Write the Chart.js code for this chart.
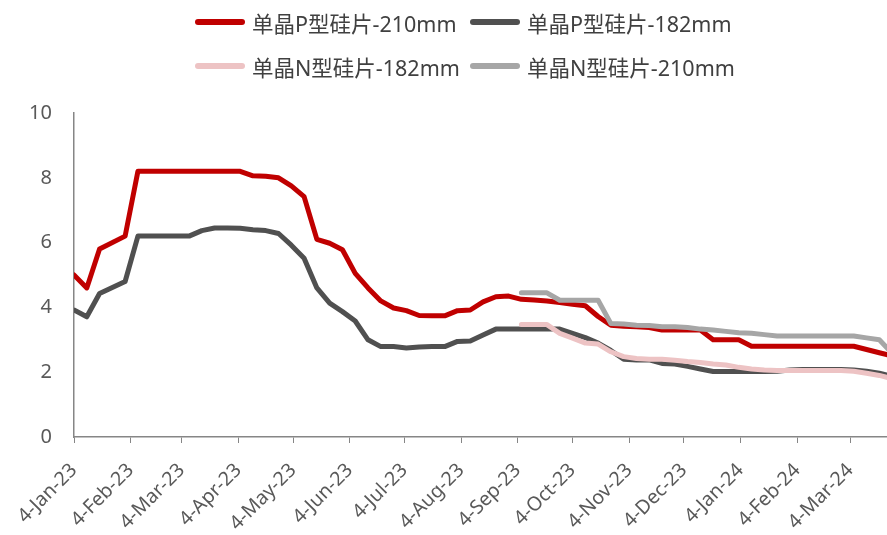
<!DOCTYPE html>
<html>
<head>
<meta charset="utf-8">
<script src="https://cdn.jsdelivr.net/npm/chart.js@4.4.1/dist/chart.umd.min.js"></script>
<style>
  html, body { margin: 0; padding: 0; background: #fff; }
  #wrap { position: relative; width: 887px; height: 535px; }
  #chart { position: absolute; left: 0; top: 0; }
  #legend {
    position: absolute; left: 195px; top: 0; width: 600px;
    display: grid; grid-template-columns: 275px 275px; grid-auto-rows: 44px;
    font-family: 'Noto Sans', 'Noto Sans CJK SC', sans-serif;
    font-size: 21.5px; color: #404040;
  }
  #legend .item { display: flex; align-items: center; white-space: nowrap; }
  #legend .sw { width: 50px; height: 6px; border-radius: 3px; margin-right: 7px; flex: none; }
</style>
</head>
<body>
<div id="wrap">
  <canvas id="chart" width="887" height="535"></canvas>
  <div id="legend"></div>
</div>
<script>
// Weekly quotation dates (Wednesdays); no quote in Spring Festival week 2023-01-25
const weeks = [
  '2023-01-04','2023-01-11','2023-01-18','2023-02-01','2023-02-08','2023-02-15','2023-02-22',
  '2023-03-01','2023-03-08','2023-03-15','2023-03-22','2023-03-29','2023-04-05','2023-04-12',
  '2023-04-19','2023-04-26','2023-05-03','2023-05-10','2023-05-17','2023-05-24','2023-05-31',
  '2023-06-07','2023-06-14','2023-06-21','2023-06-28','2023-07-05','2023-07-12','2023-07-19',
  '2023-07-26','2023-08-02','2023-08-09','2023-08-16','2023-08-23','2023-08-30','2023-09-06',
  '2023-09-13','2023-09-20','2023-09-27','2023-10-04','2023-10-11','2023-10-18','2023-10-25',
  '2023-11-01','2023-11-08','2023-11-15','2023-11-22','2023-11-29','2023-12-06','2023-12-13',
  '2023-12-20','2023-12-27','2024-01-03','2024-01-10','2024-01-17','2024-01-24','2024-01-31',
  '2024-02-07','2024-02-14','2024-02-21','2024-02-28','2024-03-06','2024-03-13','2024-03-20',
  '2024-03-27'
];

// 单晶P型硅片-210mm (元/片)
const p210 = [
  5.0, 4.6, 5.8, 6.2, 8.2, 8.2, 8.2,
  8.2, 8.2, 8.2, 8.2, 8.2, 8.2, 8.06,
  8.05, 8.0, 7.75, 7.42, 6.1, 5.98, 5.78,
  5.05, 4.6, 4.2, 3.98, 3.9, 3.75, 3.74,
  3.74, 3.9, 3.92, 4.17, 4.33, 4.35, 4.25,
  4.23, 4.2, 4.15, 4.1, 4.05, 3.72, 3.45,
  3.42, 3.4, 3.38, 3.3, 3.3, 3.3, 3.3,
  3.0, 3.0, 3.0, 2.8, 2.8, 2.8, 2.8,
  2.8, 2.8, 2.8, 2.8, 2.8, 2.7, 2.6,
  2.5
];

// 单晶P型硅片-182mm
const p182 = [
  3.92, 3.71, 4.43, 4.8, 6.2, 6.2, 6.2,
  6.2, 6.2, 6.37, 6.45, 6.45, 6.44, 6.4,
  6.37, 6.28, 5.92, 5.52, 4.6, 4.13, 3.87,
  3.58, 3.0, 2.79, 2.79, 2.75, 2.78, 2.79,
  2.79, 2.95, 2.96, 3.15, 3.33, 3.33, 3.33,
  3.33, 3.33, 3.33, 3.2, 3.07, 2.9, 2.67,
  2.4, 2.38, 2.38, 2.27, 2.25, 2.18, 2.1,
  2.02, 2.02, 2.02, 2.02, 2.02, 2.03, 2.07,
  2.08, 2.08, 2.08, 2.08, 2.07, 2.03, 1.97,
  1.87
];

// 单晶N型硅片-182mm (quoted from 2023-09-06)
const n182 = [
  null, null, null, null, null, null, null,
  null, null, null, null, null, null, null,
  null, null, null, null, null, null, null,
  null, null, null, null, null, null, null,
  null, null, null, null, null, null, 3.47,
  3.47, 3.47, 3.2, 3.05, 2.9, 2.87, 2.63,
  2.48, 2.42, 2.4, 2.4, 2.37, 2.33, 2.3,
  2.25, 2.22, 2.15, 2.1, 2.07, 2.05, 2.05,
  2.05, 2.05, 2.05, 2.05, 2.03, 1.97, 1.9,
  1.8
];

// 单晶N型硅片-210mm (quoted from 2023-09-06)
const n210 = [
  null, null, null, null, null, null, null,
  null, null, null, null, null, null, null,
  null, null, null, null, null, null, null,
  null, null, null, null, null, null, null,
  null, null, null, null, null, null, 4.45,
  4.45, 4.45, 4.22, 4.22, 4.22, 4.22, 3.5,
  3.49, 3.45, 3.44, 3.4, 3.4, 3.38, 3.33,
  3.3, 3.26, 3.22, 3.2, 3.16, 3.12, 3.12,
  3.12, 3.12, 3.12, 3.12, 3.12, 3.06, 3.0,
  2.58
];

// Monthly axis labels
const tickLabels = [
  '4-Jan-23','4-Feb-23','4-Mar-23','4-Apr-23','4-May-23','4-Jun-23','4-Jul-23','4-Aug-23',
  '4-Sep-23','4-Oct-23','4-Nov-23','4-Dec-23','4-Jan-24','4-Feb-24','4-Mar-24'
];
const yTicks = [0, 2, 4, 6, 8, 10];

// --- helpers: dates -> day offsets on a linear axis ---
const MONTHS = {Jan:0,Feb:1,Mar:2,Apr:3,May:4,Jun:5,Jul:6,Aug:7,Sep:8,Oct:9,Nov:10,Dec:11};
const origin = Date.UTC(2023, 0, 4);
const DAY = 86400000;
const isoToDay = s => {
  const [y, m, d] = s.split('-').map(Number);
  return (Date.UTC(y, m - 1, d) - origin) / DAY;
};
const labelToDay = s => {
  const [d, mon, yy] = s.split('-');
  return (Date.UTC(2000 + Number(yy), MONTHS[mon], Number(d)) - origin) / DAY;
};
const weekDays = weeks.map(isoToDay);
const tickDays = tickLabels.map(labelToDay);
const xMax = isoToDay('2024-03-24') + 0.2;

const toPoints = vals => vals
  .map((v, i) => ({x: weekDays[i], y: v}))
  .filter(p => p.y !== null);

const series = [
  {label: '单晶P型硅片-210mm', values: p210, color: '#C00000', order: 2},
  {label: '单晶P型硅片-182mm', values: p182, color: '#505050', order: 3},
  {label: '单晶N型硅片-182mm', values: n182, color: '#EDC3C4', order: 1},
  {label: '单晶N型硅片-210mm', values: n210, color: '#A6A6A6', order: 0}
];

const axisColor = '#868686';
const textColor = '#595959';

const htmlLegend = {
  id: 'htmlLegend',
  afterUpdate(chart) {
    const box = document.getElementById('legend');
    box.innerHTML = '';
    chart.data.datasets.forEach(ds => {
      const item = document.createElement('div');
      item.className = 'item';
      const sw = document.createElement('span');
      sw.className = 'sw';
      sw.style.background = ds.borderColor;
      const tx = document.createElement('span');
      tx.textContent = ds.label;
      item.appendChild(sw);
      item.appendChild(tx);
      box.appendChild(item);
    });
  }
};

new Chart(document.getElementById('chart'), {
  type: 'line',
  data: {
    datasets: series.map(s => ({
      label: s.label,
      data: toPoints(s.values),
      borderColor: s.color,
      backgroundColor: s.color,
      borderWidth: 5,
      borderJoinStyle: 'round',
      borderCapStyle: 'round',
      pointRadius: 0,
      tension: 0,
      fill: false,
      order: s.order
    }))
  },
  options: {
    responsive: false,
    animation: false,
    devicePixelRatio: 1,
    layout: {padding: {top: 113, left: 0, right: 0, bottom: 0}},
    plugins: {
      legend: {display: false},
      tooltip: {enabled: false}
    },
    scales: {
      x: {
        type: 'linear',
        min: 0,
        max: xMax,
        afterBuildTicks: scale => { scale.ticks = tickDays.map(v => ({value: v})); },
        afterFit: scale => { scale.height = 98; },
        grid: {display: true, drawOnChartArea: false, drawTicks: true, tickLength: 6, color: axisColor, lineWidth: 1},
        border: {display: true, color: axisColor, width: 1.5},
        ticks: {
          autoSkip: false,
          minRotation: 45,
          maxRotation: 45,
          padding: 16,
          color: textColor,
          font: {family: "'Noto Sans', sans-serif", size: 19.5},
          callback: (v, i) => tickLabels[i]
        }
      },
      y: {
        min: 0,
        max: 10,
        afterBuildTicks: scale => { scale.ticks = yTicks.map(v => ({value: v})); },
        afterFit: scale => { scale.width = 74; },
        grid: {display: false, drawTicks: false},
        border: {display: true, color: axisColor, width: 1.5},
        ticks: {
          padding: 22,
          color: textColor,
          font: {family: "'Noto Sans', sans-serif", size: 20}
        }
      }
    }
  },
  plugins: [htmlLegend]
});
</script>
</body>
</html>
